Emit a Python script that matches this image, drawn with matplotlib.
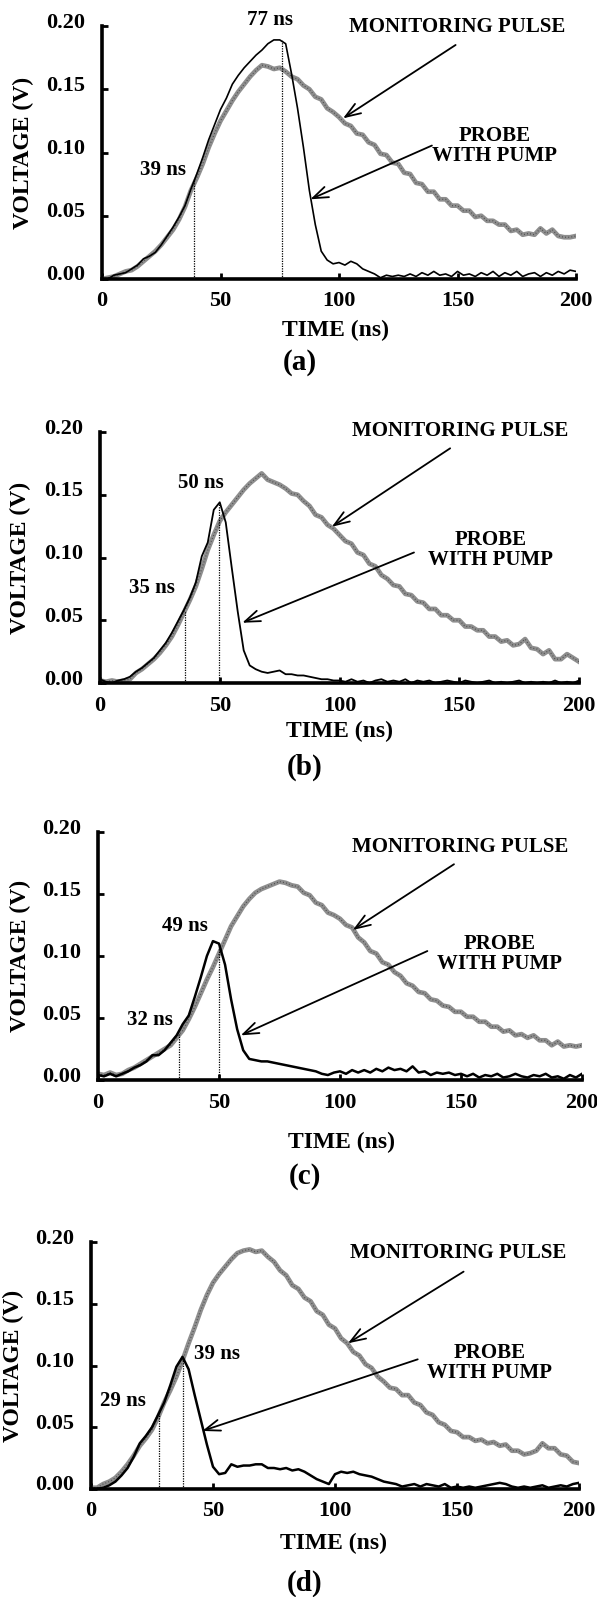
"""Monitoring pulse vs probe-with-pump traces, four panels (a)-(d)."""

import matplotlib
matplotlib.use('Agg')
import matplotlib.pyplot as plt
import matplotlib.transforms as mtransforms
import numpy as np

## Constants
FIG_W, FIG_H = 597, 1597
DPI = 100
GRAY = '#8e8e8e'
GRAY_DARK = '#4a4a4a'
FONT = 'Liberation Serif'

plt.rcParams['font.family'] = [FONT, 'DejaVu Serif']
plt.rcParams['font.weight'] = 'bold'

time_ns = np.arange(0, 200.1, 2.5)

a_monitor = [0.000, 0.001, 0.002, 0.004, 0.006, 0.007, 0.010, 0.014, 0.018, 0.022,
             0.027, 0.033, 0.039, 0.047, 0.057, 0.070, 0.080, 0.091, 0.104, 0.115,
             0.125, 0.133, 0.141, 0.148, 0.154, 0.160, 0.165, 0.169, 0.168, 0.166,
             0.167, 0.164, 0.160, 0.158, 0.153, 0.150, 0.144, 0.142, 0.135, 0.132,
             0.128, 0.123, 0.121, 0.115, 0.114, 0.108, 0.106, 0.099, 0.098, 0.092,
             0.091, 0.084, 0.083, 0.076, 0.075, 0.069, 0.069, 0.063, 0.063, 0.058,
             0.058, 0.054, 0.054, 0.049, 0.050, 0.046, 0.046, 0.043, 0.043, 0.038,
             0.039, 0.035, 0.036, 0.035, 0.040, 0.036, 0.039, 0.034, 0.033, 0.033,
             0.034]
a_probe = [0.000, 0.000, 0.003, 0.004, 0.005, 0.008, 0.011, 0.016, 0.018, 0.021,
           0.027, 0.034, 0.041, 0.049, 0.058, 0.071, 0.083, 0.096, 0.110, 0.122,
           0.134, 0.143, 0.154, 0.161, 0.167, 0.172, 0.177, 0.181, 0.186, 0.189,
           0.189, 0.186, 0.162, 0.135, 0.104, 0.070, 0.043, 0.022, 0.015, 0.012,
           0.013, 0.011, 0.014, 0.012, 0.008, 0.006, 0.004, 0.001, 0.003, 0.002,
           0.003, 0.002, 0.004, 0.002, 0.005, 0.003, 0.006, 0.003, 0.004, 0.002,
           0.006, 0.003, 0.004, 0.002, 0.005, 0.003, 0.006, 0.002, 0.005, 0.003,
           0.006, 0.002, 0.004, 0.005, 0.002, 0.005, 0.003, 0.006, 0.004, 0.007,
           0.006]

b_monitor = [0.002, 0.001, 0.002, 0.001, 0.002, 0.003, 0.008, 0.011, 0.015, 0.019,
             0.024, 0.030, 0.037, 0.046, 0.056, 0.066, 0.077, 0.091, 0.106, 0.118,
             0.129, 0.136, 0.142, 0.148, 0.154, 0.159, 0.163, 0.167, 0.162, 0.160,
             0.158, 0.155, 0.151, 0.150, 0.145, 0.141, 0.134, 0.132, 0.126, 0.123,
             0.118, 0.113, 0.111, 0.104, 0.102, 0.095, 0.093, 0.086, 0.083, 0.078,
             0.077, 0.071, 0.070, 0.065, 0.064, 0.059, 0.059, 0.054, 0.054, 0.050,
             0.050, 0.045, 0.045, 0.042, 0.042, 0.037, 0.037, 0.033, 0.034, 0.030,
             0.031, 0.035, 0.028, 0.027, 0.023, 0.026, 0.019, 0.019, 0.023, 0.020,
             0.017]
b_probe = [0.003, 0.001, 0.000, 0.002, 0.003, 0.005, 0.009, 0.012, 0.016, 0.020,
           0.026, 0.032, 0.040, 0.049, 0.058, 0.068, 0.080, 0.101, 0.112, 0.138,
           0.144, 0.128, 0.092, 0.057, 0.026, 0.014, 0.011, 0.009, 0.008, 0.009,
           0.010, 0.007, 0.007, 0.006, 0.006, 0.005, 0.004, 0.003, 0.003, 0.002,
           0.002, 0.001, 0.003, 0.001, 0.002, 0.000, 0.002, 0.003, 0.001, 0.002,
           0.001, 0.003, 0.000, 0.002, 0.001, 0.002, 0.000, 0.001, 0.002, 0.001,
           0.000, 0.002, 0.001, 0.000, 0.001, 0.002, 0.000, 0.001, 0.000, 0.001,
           0.002, 0.000, 0.001, 0.000, 0.001, 0.000, 0.002, 0.000, 0.001, 0.000,
           0.002]

c_monitor = [0.005, 0.004, 0.006, 0.004, 0.005, 0.008, 0.010, 0.013, 0.016, 0.019,
             0.022, 0.025, 0.028, 0.034, 0.040, 0.049, 0.059, 0.070, 0.081, 0.091,
             0.102, 0.113, 0.124, 0.132, 0.140, 0.146, 0.151, 0.154, 0.156, 0.158,
             0.160, 0.159, 0.157, 0.156, 0.151, 0.149, 0.143, 0.141, 0.135, 0.133,
             0.130, 0.125, 0.123, 0.115, 0.111, 0.104, 0.102, 0.095, 0.093, 0.087,
             0.084, 0.078, 0.076, 0.071, 0.070, 0.065, 0.064, 0.060, 0.059, 0.055,
             0.055, 0.051, 0.051, 0.047, 0.047, 0.043, 0.043, 0.039, 0.040, 0.036,
             0.037, 0.034, 0.036, 0.032, 0.032, 0.028, 0.031, 0.027, 0.028, 0.027,
             0.028]
c_probe = [0.004, 0.003, 0.005, 0.003, 0.005, 0.007, 0.010, 0.012, 0.015, 0.020,
           0.020, 0.024, 0.030, 0.036, 0.045, 0.052, 0.067, 0.083, 0.100, 0.112,
           0.110, 0.093, 0.065, 0.041, 0.024, 0.017, 0.016, 0.015, 0.015, 0.014,
           0.013, 0.012, 0.011, 0.010, 0.009, 0.008, 0.007, 0.005, 0.004, 0.006,
           0.007, 0.005, 0.008, 0.006, 0.008, 0.006, 0.009, 0.007, 0.010, 0.008,
           0.009, 0.007, 0.011, 0.006, 0.007, 0.004, 0.006, 0.005, 0.006, 0.004,
           0.005, 0.003, 0.005, 0.002, 0.004, 0.003, 0.005, 0.002, 0.003, 0.005,
           0.003, 0.002, 0.004, 0.003, 0.005, 0.002, 0.003, 0.001, 0.004, 0.002,
           0.005]

d_monitor = [0.001, 0.001, 0.004, 0.006, 0.009, 0.014, 0.020, 0.027, 0.035, 0.041,
             0.048, 0.058, 0.070, 0.080, 0.091, 0.104, 0.118, 0.131, 0.145, 0.157,
             0.167, 0.174, 0.180, 0.186, 0.191, 0.193, 0.194, 0.192, 0.193, 0.188,
             0.184, 0.177, 0.173, 0.165, 0.162, 0.155, 0.152, 0.144, 0.141, 0.133,
             0.130, 0.122, 0.118, 0.111, 0.108, 0.101, 0.098, 0.091, 0.087, 0.082,
             0.081, 0.076, 0.076, 0.070, 0.068, 0.062, 0.060, 0.054, 0.052, 0.047,
             0.046, 0.042, 0.042, 0.039, 0.040, 0.037, 0.038, 0.035, 0.036, 0.031,
             0.031, 0.028, 0.029, 0.031, 0.037, 0.033, 0.033, 0.028, 0.027, 0.022,
             0.021]
d_probe = [0.000, 0.000, 0.001, 0.003, 0.006, 0.011, 0.017, 0.026, 0.037, 0.043,
           0.050, 0.060, 0.070, 0.084, 0.099, 0.107, 0.097, 0.076, 0.056, 0.036,
           0.018, 0.012, 0.013, 0.020, 0.018, 0.019, 0.019, 0.020, 0.020, 0.017,
           0.017, 0.016, 0.017, 0.015, 0.016, 0.014, 0.011, 0.008, 0.006, 0.004,
           0.012, 0.014, 0.013, 0.014, 0.012, 0.011, 0.010, 0.008, 0.006, 0.005,
           0.004, 0.002, 0.003, 0.004, 0.002, 0.004, 0.003, 0.002, 0.004, 0.001,
           0.002, 0.001, 0.002, 0.001, 0.002, 0.003, 0.004, 0.005, 0.004, 0.002,
           0.001, 0.002, 0.001, 0.002, 0.003, 0.001, 0.002, 0.003, 0.002, 0.004,
           0.005]

panel_names = ['(a)', '(b)', '(c)', '(d)']
monitors = [a_monitor, b_monitor, c_monitor, d_monitor]
probes = [a_probe, b_probe, c_probe, d_probe]

# marked times (ns) and the voltage the dotted line climbs to
marks = [[(39, 0.078), (76, 0.189)],
         [(35.3, 0.057), (49.5, 0.143)],
         [(33.5, 0.037), (50, 0.110)],
         [(28, 0.063), (37.5, 0.107)]]
mark_labels = [[('39 ns', 25.7, 0.086), ('77 ns', 71, 0.205)],
               [('35 ns', 21.5, 0.0755), ('50 ns', 42.2, 0.159)],
               [('32 ns', 21.3, 0.048), ('49 ns', 36.1, 0.124)],
               [('29 ns', 13.1, 0.071), ('39 ns', 51.6, 0.109)]]

x_ticks = [0, 50, 100, 150, 200]
y_ticks = [0.00, 0.05, 0.10, 0.15, 0.20]
y_tick_labels = ['0.00', '0.05', '0.10', '0.15', '0.20']

## Layout in pixels: (left, right, top, bottom) of each axes box
boxes = [(102, 576, 26, 279), (100, 579, 432, 683),
         (98, 582, 832, 1080), (91, 579, 1242, 1489)]
# text anchors in pixels
ylabel_x = [23, 20, 20, 13]
xlabel_y = [330, 731, 1142, 1543]
panel_y = [362, 767, 1176, 1583]
xlabel_x = [336, 340, 342, 334]
panel_x = [300, 305, 305, 305]

# annotations in data coordinates
mon_text = [(150, 0.199), (150.2, 0.201), (149.5, 0.188), (150.3, 0.191)]
probe_text = [(165.5, 0.1055), (162.9, 0.106), (166, 0.102), (163.3, 0.102)]
mon_arrow = [((149.2, 0.185), (101.7, 0.127)), ((146.2, 0.187), (96.8, 0.1245)),
             ((147.1, 0.174), (105.3, 0.121)), ((152.7, 0.176), (105.3, 0.118))]
probe_arrow = [((139.2, 0.1055), (87.9, 0.063)), ((131.1, 0.104), (59.4, 0.048)),
               ((136.1, 0.104), (59.0, 0.036)), ((133.9, 0.105), (45.6, 0.047))]
probe_lw = [1.2, 1.3, 1.8, 1.8]


def fig_xy(x, y):
    return x / FIG_W, 1 - y / FIG_H


fig = plt.figure(figsize=(FIG_W / DPI, FIG_H / DPI), dpi=DPI)
lift = mtransforms.ScaledTranslation(0, 6 / DPI, fig.dpi_scale_trans)

for i in range(4):
    left, right, top, bottom = boxes[i]
    ax = fig.add_axes([left / FIG_W, 1 - bottom / FIG_H,
                       (right - left) / FIG_W, (bottom - top) / FIG_H])

    # monitoring pulse: thick gray trace with darker speckle
    ax.plot(time_ns, monitors[i], color=GRAY, lw=3.4)
    ax.plot(time_ns, monitors[i], color=GRAY_DARK, lw=0.9, ls=(0, (0.7, 1.8)))
    ax.plot(time_ns, probes[i], color='black', lw=probe_lw[i])

    for t, v in marks[i]:
        ax.vlines(t, 0, v, colors='black', linestyles=(0, (1, 1)), lw=0.9)
    for label, x, y in mark_labels[i]:
        ax.text(x, y, label, ha='center', va='center', fontsize=15, clip_on=False)

    ax.text(*mon_text[i], 'MONITORING PULSE', ha='center', va='center', fontsize=15)
    ax.text(*probe_text[i], 'PROBE\nWITH PUMP', ha='center', va='center',
            fontsize=15, linespacing=1.0)
    arrow = dict(arrowstyle='->,head_length=1.1,head_width=0.4', lw=1.3,
                 color='black', shrinkA=0, shrinkB=0)
    ax.annotate('', xy=mon_arrow[i][1], xytext=mon_arrow[i][0], arrowprops=arrow)
    ax.annotate('', xy=probe_arrow[i][1], xytext=probe_arrow[i][0], arrowprops=arrow)

    ax.set_xlim(0, 200)
    ax.set_ylim(0, 0.2)
    ax.set_xticks(x_ticks)
    ax.set_yticks(y_ticks)
    ax.set_yticklabels(y_tick_labels)
    ax.tick_params(direction='in', length=4, width=2, labelsize=16)
    ax.tick_params(axis='y', pad=12)
    ax.tick_params(axis='x', pad=9)
    for lab in ax.get_yticklabels():
        lab.set_transform(lab.get_transform() + lift)
    for side in ['top', 'right']:
        ax.spines[side].set_visible(False)
    for side in ['left', 'bottom']:
        ax.spines[side].set_linewidth(2.6)
    ax.patch.set_alpha(0)

    fig.text(*fig_xy(ylabel_x[i], (top + bottom) / 2), 'VOLTAGE (V)', rotation=90,
             ha='center', va='center', fontsize=17)
    fig.text(*fig_xy(xlabel_x[i], xlabel_y[i]), 'TIME (ns)', ha='center',
             va='center', fontsize=17)
    fig.text(*fig_xy(panel_x[i], panel_y[i]), panel_names[i], ha='center',
             va='center', fontsize=21)

fig.savefig('out.png', dpi=DPI)
